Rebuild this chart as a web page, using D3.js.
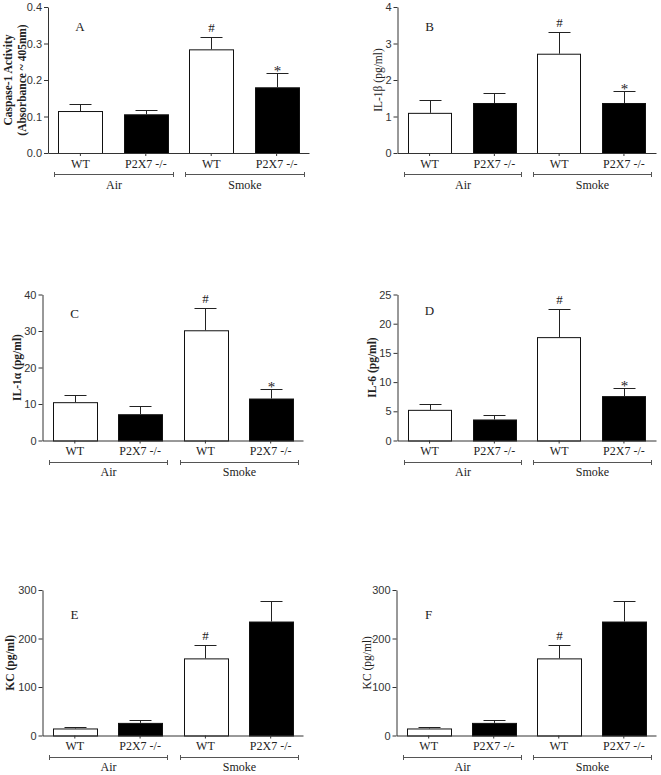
<!DOCTYPE html>
<html>
<head>
<meta charset="utf-8">
<script src="https://cdn.jsdelivr.net/npm/d3@7"></script>
<style>
  body { margin: 0; background: #fff; }
  svg { display: block; }
</style>
</head>
<body>
<svg id="chart" width="661" height="775"></svg>
<script>
// ---------- DATA ----------
const categories = ["WT", "P2X7 -/-", "WT", "P2X7 -/-"];
const categoryIds = ["airWT", "airKO", "smokeWT", "smokeKO"];
const groups = ["Air", "Smoke"];
const barFills = ["white", "black", "white", "black"];

const caspaseMean = [0.115, 0.106, 0.284, 0.180];
const caspaseErr  = [0.020, 0.012, 0.034, 0.038];
const il1bMean = [1.10, 1.37, 2.72, 1.37];
const il1bErr  = [0.36, 0.28, 0.59, 0.33];
const il1aMean = [10.5, 7.2, 30.2, 11.5];
const il1aErr  = [2.1, 2.3, 6.1, 2.6];
const il6Mean = [5.25, 3.6, 17.7, 7.6];
const il6Err  = [1.0, 0.8, 4.9, 1.4];
const kcMean = [14.5, 26, 159, 235];
const kcErr  = [2.5, 5, 28, 43];

const marksABCD = [null, null, "#", "*"];
const marksEF = [null, null, "#", null];

const ticksA = [0, 0.1, 0.2, 0.3, 0.4];
const ticksB = [0, 1, 2, 3, 4];
const ticksC = [0, 10, 20, 30, 40];
const ticksD = [0, 5, 10, 15, 20, 25];
const ticksE = [0, 100, 200, 300];

const letters = ["A", "B", "C", "D", "E", "F"];
const yTitles = [
  ["Caspase-1 Activity", "(Absorbance ~ 405nm)"],
  ["IL-1\u03b2 (pg/ml)"],
  ["IL-1\u03b1 (pg/ml)"],
  ["IL-6 (pg/ml)"],
  ["KC (pg/ml)"],
  ["KC (pg/ml)"]
];

// ---------- LAYOUT ----------
const panels = [
  { mean: caspaseMean, err: caspaseErr, marks: marksABCD, ticks: ticksA, fmt: ".1f",
    ax: 48, top: 7, bottom: 153, xEnd: 309, letterDy: 24, titleDx: [-40, -26], bold: true },
  { mean: il1bMean, err: il1bErr, marks: marksABCD, ticks: ticksB, fmt: "d",
    ax: 397.5, top: 7, bottom: 153, xEnd: 656, letterDy: 24, titleDx: [-20], bold: false },
  { mean: il1aMean, err: il1aErr, marks: marksABCD, ticks: ticksC, fmt: "d",
    ax: 42.5, top: 294.5, bottom: 440.5, xEnd: 303, letterDy: 23, titleDx: [-26], bold: true },
  { mean: il6Mean, err: il6Err, marks: marksABCD, ticks: ticksD, fmt: "d",
    ax: 397.5, top: 294.5, bottom: 440.5, xEnd: 656, letterDy: 20, titleDx: [-26], bold: true },
  { mean: kcMean, err: kcErr, marks: marksEF, ticks: ticksE, fmt: "d",
    ax: 42.5, top: 590, bottom: 735.5, xEnd: 303, letterDy: 29, titleDx: [-33], bold: true },
  { mean: kcMean, err: kcErr, marks: marksEF, ticks: ticksE, fmt: "d",
    ax: 396.5, top: 590, bottom: 735.5, xEnd: 656, letterDy: 29, titleDx: [-30], bold: false }
];

const serif = "'Liberation Serif', 'Times New Roman', serif";
const sans = "'Liberation Sans', Arial, sans-serif";
const axisColor = "#333";

const svg = d3.select("#chart");

panels.forEach((p, pi) => {
  const g = svg.append("g");
  const dom = [p.ticks[0], p.ticks[p.ticks.length - 1]];
  const y = d3.scaleLinear().domain(dom).range([p.bottom, p.top]);
  const x = d3.scaleBand().domain(categoryIds).range([p.ax, p.xEnd])
    .paddingInner(0.33).paddingOuter(0.16);
  const bw = x.bandwidth();

  // bars
  g.selectAll("rect.bar").data(categoryIds).enter().append("rect")
    .attr("x", d => Math.round(x(d)) + 0.5)
    .attr("y", (d, i) => y(p.mean[i]) + 0.5)
    .attr("width", Math.round(bw))
    .attr("height", (d, i) => p.bottom - y(p.mean[i]))
    .attr("fill", (d, i) => barFills[i])
    .attr("stroke", "#111")
    .attr("stroke-width", 1);

  // error bars (upper only)
  const capHalf = 11;
  categoryIds.forEach((d, i) => {
    const cx = Math.round(x(d) + bw / 2) + 0.5;
    const y0 = y(p.mean[i]);
    const y1 = Math.round(y(p.mean[i] + p.err[i])) + 0.5;
    g.append("line").attr("x1", cx).attr("x2", cx).attr("y1", y0).attr("y2", y1)
      .attr("stroke", "#222").attr("stroke-width", 1);
    g.append("line").attr("x1", cx - capHalf).attr("x2", cx + capHalf).attr("y1", y1).attr("y2", y1)
      .attr("stroke", "#222").attr("stroke-width", 1);
    const m = p.marks[i];
    if (m) {
      g.append("text").attr("x", cx).attr("y", m === "#" ? y1 - 6 : y1 + 2)
        .attr("text-anchor", "middle").attr("font-family", serif)
        .attr("font-size", m === "#" ? 13 : 15).attr("fill", "#222").text(m);
    }
  });

  // y axis
  const yAxis = d3.axisLeft(y).tickValues(p.ticks).tickFormat(d3.format(p.fmt))
    .tickSize(4).tickSizeOuter(0).tickPadding(2);
  const ya = g.append("g").attr("transform", `translate(${p.ax},0)`).call(yAxis);
  ya.select(".domain").attr("stroke", axisColor);
  ya.selectAll(".tick line").attr("stroke", axisColor);
  ya.selectAll(".tick text").attr("font-family", sans).attr("font-size", 11).attr("fill", "#333");

  // x axis
  const xAxis = d3.axisBottom(x).tickSize(3).tickSizeOuter(0).tickFormat((d, i) => categories[i]);
  const xa = g.append("g").attr("transform", `translate(0,${p.bottom})`).call(xAxis);
  xa.select(".domain").attr("stroke", axisColor);
  xa.selectAll(".tick line").attr("stroke", axisColor);
  xa.selectAll(".tick text").attr("font-family", serif).attr("font-size", 12)
    .attr("fill", "#222").attr("y", 14.5).attr("dy", 0);

  // group brackets
  const groupMembers = [[0, 1], [2, 3]];
  groupMembers.forEach((mem, gi) => {
    const x0 = Math.round(x(categoryIds[mem[0]])) - 4 + 0.5;
    const x1 = Math.round(x(categoryIds[mem[1]]) + bw) + 5 + 0.5;
    const by = Math.round(p.bottom + 21) + 0.5;
    g.append("line").attr("x1", x0).attr("x2", x1).attr("y1", by).attr("y2", by)
      .attr("stroke", "#555").attr("stroke-width", 1);
    [x0, x1].forEach(xx => g.append("line").attr("x1", xx).attr("x2", xx)
      .attr("y1", by - 2.5).attr("y2", by + 2.5).attr("stroke", "#555").attr("stroke-width", 1));
    g.append("text").attr("x", (x0 + x1) / 2).attr("y", p.bottom + 35.5)
      .attr("text-anchor", "middle").attr("font-family", serif).attr("font-size", 12)
      .attr("fill", "#222").text(groups[gi]);
  });

  // panel letter
  g.append("text").attr("x", p.ax + 32).attr("y", p.top + p.letterDy)
    .attr("text-anchor", "middle").attr("font-family", serif).attr("font-size", 13)
    .attr("fill", "#222").text(letters[pi]);

  // y title
  const cy = (p.top + p.bottom) / 2;
  yTitles[pi].forEach((t, li) => {
    const tx = p.ax + p.titleDx[li];
    g.append("text")
      .attr("transform", `translate(${tx},${cy}) rotate(-90)`)
      .attr("text-anchor", "middle").attr("dominant-baseline", "central")
      .attr("font-family", serif).attr("font-size", 11.5)
      .attr("font-weight", p.bold ? "bold" : "normal")
      .attr("fill", "#222").text(t);
  });
});
</script>
</body>
</html>
